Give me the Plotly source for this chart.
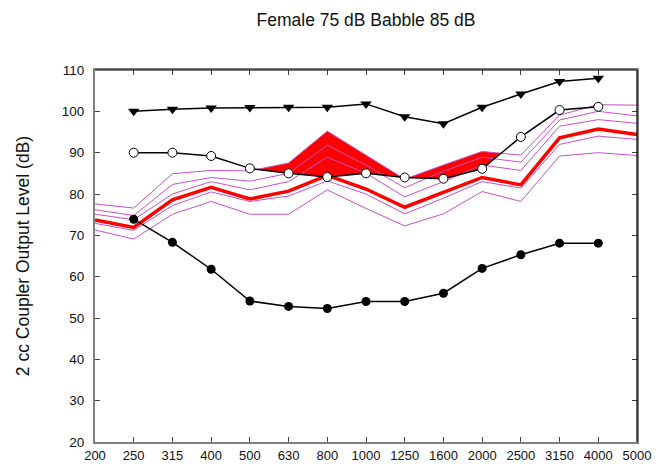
import numpy as np
import plotly.graph_objects as go

freqs = ['200', '250', '315', '400', '500', '630', '800', '1000', '1250',
         '1600', '2000', '2500', '3150', '4000', '5000']

# series defined on 250..4000 Hz
mpo_db = [100, 100.5, 100.8, 100.9, 101, 101, 101.8, 98.7, 97, 101, 104.2, 107.2, 108]
open_circ_db = [90, 90, 89.2, 86.2, 85, 84.1, 85, 84, 83.7, 86.1, 93.8, 100.3, 101.1]
filled_circ_db = [73.9, 68.3, 61.8, 54.1, 52.8, 52.3, 54, 54, 56, 62, 65.3, 68.1, 68.1]

# series defined on 200..5000 Hz
pct_top = [77.6, 76.6, 84.9, 85.7, 85.6, 87.5, 95.2, 89.5, 83.6, 87.0, 90.3, 89.4, 99.1, 101.6, 101.5]
pct_2 = [76.2, 74.8, 82.3, 84.0, 83.1, 85.0, 91.8, 87.0, 81.5, 85.5, 88.9, 87.7, 97.9, 100.0, 98.9]
pct_3 = [75.1, 73.8, 80.0, 83.0, 81.0, 83.0, 88.9, 85.0, 79.3, 83.0, 87.0, 85.7, 96.4, 98.0, 97.1]
mean_db = [73.7, 71.9, 78.6, 81.6, 78.8, 80.7, 84.5, 81.2, 76.8, 80.5, 84.0, 82.2, 93.6, 95.7, 94.4]
pct_4 = [72.9, 71.2, 77.2, 80.5, 78.2, 79.5, 83.2, 80.0, 75.2, 79.0, 83.0, 81.4, 92.0, 94.0, 93.2]
pct_low = [71.3, 69.1, 75.1, 78.2, 75.1, 75.1, 81.0, 76.5, 72.3, 75.2, 80.6, 78.2, 89.2, 90.0, 89.3]

x_all = np.arange(len(freqs))
x_mid = x_all[1:14]

MAG = '#C850C8'
fig = go.Figure()

# red fill where the top percentile exceeds the open-circle curve
t = np.array(pct_top[1:14], dtype=float)
c = np.array(open_circ_db, dtype=float)
xs, up, lo = [], [], []
for i in range(len(x_mid)):
    xs.append(float(x_mid[i])); up.append(max(t[i], c[i])); lo.append(c[i])
    if i < len(x_mid) - 1:
        d1 = t[i] - c[i]; d2 = t[i + 1] - c[i + 1]
        if d1 * d2 < 0:
            f = d1 / (d1 - d2)
            yc = c[i] + f * (c[i + 1] - c[i])
            xs.append(float(x_mid[i]) + f); up.append(yc); lo.append(yc)

fig.add_trace(go.Scatter(x=xs, y=lo, mode='lines', line=dict(width=0, color='rgba(0,0,0,0)'),
                         hoverinfo='skip', showlegend=False))
fig.add_trace(go.Scatter(x=xs, y=up, mode='lines', line=dict(width=0, color='rgba(0,0,0,0)'),
                         fill='tonexty', fillcolor='#FF0000', hoverinfo='skip', showlegend=False))

for s in [pct_top, pct_2, pct_3, pct_4, pct_low]:
    fig.add_trace(go.Scatter(x=x_all, y=s, mode='lines', line=dict(color=MAG, width=1),
                             showlegend=False))

fig.add_trace(go.Scatter(x=x_all, y=mean_db, mode='lines', line=dict(color='#FF0000', width=3.5),
                         showlegend=False))

fig.add_trace(go.Scatter(x=x_mid, y=mpo_db, mode='lines+markers',
                         line=dict(color='black', width=1.5),
                         marker=dict(symbol='triangle-down', size=10, color='black'),
                         showlegend=False))
fig.add_trace(go.Scatter(x=x_mid, y=open_circ_db, mode='lines+markers',
                         line=dict(color='black', width=1.5),
                         marker=dict(symbol='circle', size=9, color='white',
                                     line=dict(color='black', width=1)),
                         showlegend=False))
fig.add_trace(go.Scatter(x=x_mid, y=filled_circ_db, mode='lines+markers',
                         line=dict(color='black', width=1.5),
                         marker=dict(symbol='circle', size=9, color='black'),
                         showlegend=False))

font = 'Liberation Sans, Arial, sans-serif'
fig.update_layout(
    width=661, height=467,
    margin=dict(l=87, r=32, t=62, b=24),
    paper_bgcolor='white', plot_bgcolor='white',
    font=dict(family=font, color='#111', size=13),
    title=dict(text='Female 75 dB Babble 85 dB', x=0.5, xref='paper', xanchor='center',
               y=0.975, yref='container', yanchor='middle',
               font=dict(size=17.5, color='#111', family=font)),
    xaxis=dict(range=[0, 14], tickmode='array', tickvals=list(x_all), ticktext=freqs,
               showgrid=False, zeroline=False, showline=True, linecolor='#808080', linewidth=2,
               mirror='ticks', ticks='inside', ticklen=5, tickcolor='#444',
               tickfont=dict(size=13)),
    yaxis=dict(range=[20, 110], tickmode='array', tickvals=list(range(20, 111, 10)),
               showgrid=False, zeroline=False, showline=True, linecolor='#808080', linewidth=2,
               mirror='ticks', ticks='inside', ticklen=5, tickcolor='#444',
               tickfont=dict(size=13.5), ticklabelstandoff=6,
               title=dict(text='2 cc Coupler Output Level (dB)', font=dict(size=17.5, color='#111'),
                          standoff=28)),
    shapes=[
        dict(type='line', xref='paper', yref='paper', x0=0, x1=1, y0=1, y1=1,
             line=dict(color='black', width=1.2)),
        dict(type='line', xref='paper', yref='paper', x0=1, x1=1, y0=0, y1=1,
             line=dict(color='black', width=1.2)),
    ],
)

fig.write_html('out.html')
